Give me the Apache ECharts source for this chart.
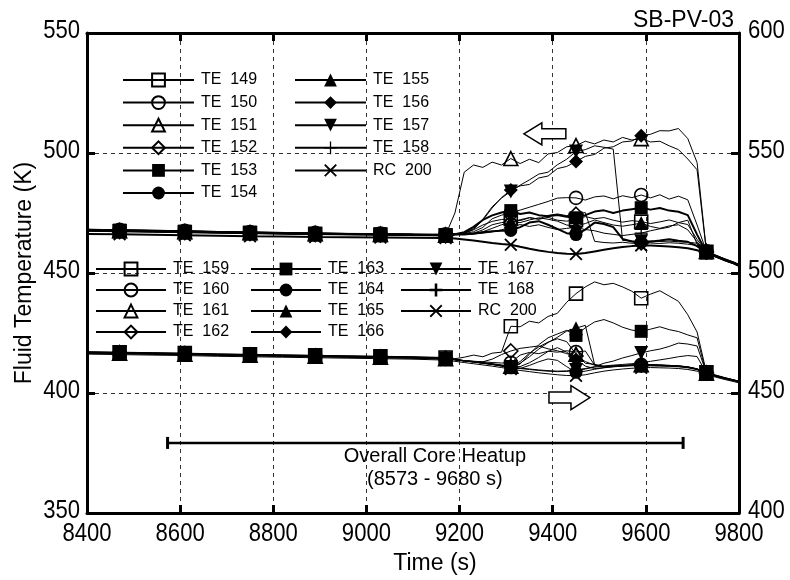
<!DOCTYPE html>
<html>
<head>
<meta charset="utf-8">
<script src="https://cdn.jsdelivr.net/npm/echarts@6/dist/echarts.min.js"></script>
<style>
  html, body { margin: 0; padding: 0; background: #fff; }
  #chart { width: 790px; height: 580px; }
</style>
</head>
<body>
<div id="chart"></div>
<script>
// Sample times (s): coarse before the heatup, 20 s steps afterwards
const time = [8400, 8470, 8540, 8610, 8680, 8750, 8820, 8890, 8960, 9030, 9100, 9170,
  9190, 9210, 9230, 9250, 9270, 9290, 9310, 9330, 9350, 9370, 9390, 9410, 9430, 9450,
  9470, 9490, 9510, 9530, 9550, 9570, 9590, 9610, 9630, 9650, 9670, 9690, 9710, 9730,
  9750, 9770, 9790, 9800];
// Times at which the symbols are drawn
const markTimes = [8470, 8610, 8750, 8890, 9030, 9170, 9310, 9450, 9590, 9730];

// Upper bundle, read on the left axis (K)
const te149 = [467.6,467.4,467.2,467.0,466.8,466.6,466.4,466.2,466.0,465.9,465.8,465.6,
  466.0,466.5,468.0,470.0,471.5,472.3,472.5,471.8,473.0,472.4,473.2,472.0,471.6,472.2,
  473.5,472.6,473.1,472.0,471.2,471.8,471.4,470.6,471.3,472.1,471.0,470.2,464.0,458.8,
  457.2,455.6,454.3,453.4];
const te150 = [468.2,468.0,467.8,467.6,467.3,467.1,466.9,466.7,466.5,466.4,466.2,466.1,
  466.3,466.4,467.2,469.0,472.6,474.1,475.0,476.2,477.4,478.6,479.8,481.2,481.4,481.3,
  480.4,481.7,482.1,480.9,482.2,481.4,482.5,481.3,482.6,480.8,482.0,480.5,470.0,459.0,
  457.4,455.9,454.5,453.6];
const te151 = [467.8,467.6,467.4,467.2,467.0,466.8,466.6,466.4,466.2,466.1,465.9,465.8,
  475.0,492.0,495.0,494.0,496.2,495.0,497.7,495.6,497.4,496.0,499.6,500.2,502.6,503.1,
  504.9,503.8,505.4,504.6,506.5,505.4,506.0,504.6,504.9,503.0,501.4,497.5,493.0,459.0,
  457.3,455.7,454.2,453.3];
const te152 = [467.4,467.2,467.0,466.8,466.6,466.4,466.2,466.0,465.9,465.8,465.6,465.5,
  466.0,466.1,466.3,467.2,468.6,470.1,471.0,472.2,473.1,472.5,474.0,474.6,473.9,474.5,
  475.2,463.2,462.7,462.5,462.8,462.4,462.6,462.5,462.3,462.6,462.4,462.0,461.5,458.7,
  457.1,455.5,454.1,453.2];
const te153 = [468.0,467.8,467.6,467.4,467.1,466.9,466.7,466.5,466.3,466.2,466.0,465.9,
  466.2,467.0,469.2,472.1,474.0,475.2,476.0,474.6,475.2,474.1,473.6,474.2,473.4,473.0,
  474.1,475.6,476.1,475.0,476.0,476.6,477.2,476.4,477.1,476.0,475.5,474.1,466.0,458.6,
  457.0,455.5,454.0,453.1];
const te154 = [467.9,467.7,467.5,467.3,467.0,466.8,466.6,466.4,466.2,466.1,465.9,465.7,
  466.0,466.0,466.5,467.0,467.4,467.6,467.7,469.1,471.0,471.6,470.1,468.4,466.6,466.0,
  468.1,471.0,470.4,469.1,464.2,463.1,462.8,463.0,463.5,464.1,463.4,463.0,461.2,458.4,
  456.9,455.3,453.9,453.0];
const te155 = [467.7,467.5,467.3,467.1,466.9,466.7,466.5,466.3,466.1,466.0,465.8,465.7,
  466.0,466.1,466.6,468.0,470.1,471.0,471.5,471.0,472.1,473.0,472.4,471.6,470.0,469.6,
  470.6,472.1,471.0,470.0,469.5,470.1,470.8,469.4,468.6,469.6,470.1,468.0,463.0,458.5,
  457.0,455.4,454.0,453.1];
const te156 = [468.1,467.9,467.7,467.5,467.2,467.0,466.8,466.6,466.4,466.3,466.1,465.9,
  466.0,466.6,468.2,472.0,477.1,481.4,484.6,486.3,486.9,489.6,490.4,493.5,494.4,496.5,
  498.6,499.4,502.0,502.6,504.6,505.0,507.2,507.8,509.3,509.2,510.2,506.0,496.0,459.2,
  457.5,455.8,454.4,453.5];
const te157 = [467.8,467.6,467.4,467.2,467.0,466.8,466.6,466.4,466.2,466.1,465.9,465.8,
  466.1,466.8,468.6,472.4,477.6,481.2,484.0,486.6,488.8,491.2,492.0,495.1,497.4,500.6,
  501.4,503.0,502.4,501.6,463.6,463.3,463.2,463.4,463.1,463.3,463.0,462.8,462.4,458.6,
  457.0,455.4,454.0,453.1];
const te158 = [467.5,467.3,467.1,466.9,466.7,466.5,466.3,466.1,466.0,465.9,465.7,465.6,
  466.0,466.1,466.2,466.6,467.1,468.0,469.0,470.2,469.4,470.1,469.0,468.1,468.6,469.0,
  468.1,467.6,466.6,466.1,465.6,466.1,466.6,467.6,468.4,469.1,471.0,472.0,462.0,458.5,
  457.0,455.4,454.0,453.1];
const rc200a = [466.3,466.1,465.9,465.7,465.5,465.3,465.2,465.0,464.9,464.8,464.7,464.6,
  464.4,464.0,463.5,463.0,462.5,462.1,461.8,460.9,460.1,459.4,458.8,458.3,458.0,457.9,
  458.3,459.0,459.7,460.3,460.8,461.2,461.5,461.5,461.3,461.0,460.7,460.3,459.5,458.3,
  456.8,455.3,453.9,453.0];

// Lower bundle, read on the right axis (K)
const te159 = [467.2,467.0,466.8,466.6,466.3,466.1,465.9,465.7,465.5,465.3,465.1,464.8,
  464.3,464.9,465.8,465.1,466.6,467.0,477.8,477.6,479.9,479.2,481.9,483.2,487.8,491.4,
  494.2,496.3,495.1,495.7,494.2,492.4,489.5,491.2,492.6,490.4,488.2,482.6,475.4,458.6,
  457.5,456.4,455.4,454.9];
const te160 = [466.6,466.4,466.2,466.0,465.8,465.6,465.4,465.2,465.0,464.8,464.6,464.2,
  463.9,463.5,463.2,463.0,462.7,462.5,462.6,465.8,466.9,466.4,467.4,467.0,467.6,467.1,
  467.5,461.6,461.0,461.1,461.4,461.6,461.7,461.8,461.6,461.5,461.3,460.9,460.1,458.4,
  457.3,456.3,455.4,454.9];
const te161 = [466.8,466.6,466.4,466.2,465.9,465.7,465.5,465.3,465.1,464.9,464.7,464.3,
  463.9,463.4,463.0,462.6,462.2,461.7,461.2,463.1,466.6,469.2,471.2,472.6,471.4,466.2,
  462.4,461.9,461.0,461.3,461.5,461.7,461.8,461.8,461.7,461.5,461.3,460.9,460.0,458.3,
  457.2,456.2,455.3,454.8];
const te162 = [467.0,466.8,466.6,466.4,466.1,465.9,465.7,465.5,465.3,465.1,464.9,464.5,
  464.0,463.5,463.2,463.0,464.1,466.0,467.5,468.6,469.1,469.6,468.4,467.6,466.4,465.4,
  463.1,461.6,460.9,461.2,461.4,461.6,461.7,461.7,461.6,461.4,461.2,460.8,460.0,458.3,
  457.2,456.2,455.3,454.8];
const te163 = [466.9,466.7,466.5,466.3,466.0,465.8,465.6,465.4,465.2,465.0,464.8,464.4,
  463.9,463.4,463.0,462.5,462.0,461.3,460.6,462.1,466.2,470.1,473.0,474.6,476.1,474.0,
  477.2,479.6,480.6,479.2,477.4,476.2,475.7,476.6,477.6,476.4,475.6,474.2,473.0,458.0,
  457.0,456.0,455.1,454.6];
const te164 = [466.7,466.5,466.3,466.1,465.8,465.6,465.4,465.2,465.0,464.8,464.6,464.2,
  463.8,463.3,462.9,462.4,461.9,461.2,460.5,460.2,461.5,463.0,464.2,463.6,461.0,458.6,
  459.1,459.9,460.5,460.9,461.2,461.4,461.3,461.3,461.2,461.1,460.9,460.5,459.7,458.0,
  457.0,456.0,455.1,454.6];
const te165 = [467.1,466.9,466.7,466.5,466.2,466.0,465.8,465.6,465.4,465.2,465.0,464.6,
  463.9,463.4,463.0,462.5,462.0,461.4,460.9,462.4,465.1,468.3,471.0,473.2,475.8,477.0,
  478.2,461.8,461.0,461.2,461.4,461.6,461.6,461.7,461.5,461.4,461.2,460.8,460.0,458.3,
  457.2,456.2,455.3,454.8];
const te166 = [466.8,466.6,466.4,466.2,465.9,465.7,465.5,465.3,465.1,464.9,464.7,464.3,
  464.0,463.5,463.1,462.6,462.1,461.5,460.9,461.0,462.6,464.8,467.3,468.9,467.0,464.0,
  461.2,460.2,460.6,461.0,461.2,461.4,461.5,461.5,461.4,461.3,461.1,460.7,459.9,458.2,
  457.1,456.1,455.2,454.7];
const te167 = [466.9,466.7,466.5,466.3,466.0,465.8,465.6,465.4,465.2,465.0,464.8,464.4,
  463.9,463.4,463.0,462.5,462.0,461.4,460.8,460.4,460.0,459.6,459.3,459.1,459.2,459.6,
  460.2,461.0,462.4,463.3,464.6,465.6,466.7,467.6,468.3,469.4,470.8,470.4,469.6,458.3,
  457.2,456.2,455.3,454.8];
const te168 = [466.6,466.4,466.2,466.0,465.7,465.5,465.3,465.1,464.9,464.7,464.5,464.1,
  463.9,463.4,462.9,462.4,461.9,461.3,460.7,460.2,459.8,459.4,459.1,458.9,459.0,459.4,
  460.0,460.8,461.3,461.6,461.9,462.2,462.6,463.2,463.8,464.4,465.1,465.6,465.2,458.2,
  457.1,456.1,455.2,454.7];
const rc200b = [466.2,466.0,465.8,465.6,465.3,465.1,464.9,464.7,464.5,464.3,464.1,463.7,
  463.2,462.7,462.2,461.7,461.2,460.6,460.0,459.4,458.9,458.4,458.0,457.6,457.3,457.2,
  457.6,458.4,459.1,459.6,460.0,460.3,460.5,460.6,460.5,460.4,460.2,459.8,459.1,457.6,
  456.6,455.6,454.7,454.2];

// Overall core heatup window (s)
const heatupSpan = [8573, 9680];
const heatupLevel = 379.2;

// Axis ticks
const leftTicks = { min: 350, max: 550, step: 50 };
const rightTicks = { min: 400, max: 600, step: 50 };
const timeTicks = { min: 8400, max: 9800, step: 200 };

const SANS = "'Liberation Sans', Arial, Helvetica, sans-serif";

const PLUS_THIN = 'path://M4.5,0h1v4.5h4.5v1h-4.5v4.5h-1v-4.5h-4.5v-1h4.5z';
const PLUS = 'path://M4,0h2v4h4v2h-4v4h-2v-4h-4v-2h4z';
const CROSS = 'path://M0,1L1,0L5,4L9,0L10,1L6,5L10,9L9,10L5,6L1,10L0,9L4,5Z';

const upperDefs = [
  { name: 'TE  149', data: te149, symbol: 'rect', open: true },
  { name: 'TE  150', data: te150, symbol: 'circle', open: true },
  { name: 'TE  151', data: te151, symbol: 'triangle', open: true },
  { name: 'TE  152', data: te152, symbol: 'diamond', open: true },
  { name: 'TE  153', data: te153, symbol: 'rect', width: 2 },
  { name: 'TE  154', data: te154, symbol: 'circle', width: 2 },
  { name: 'TE  155', data: te155, symbol: 'triangle' },
  { name: 'TE  156', data: te156, symbol: 'diamond' },
  { name: 'TE  157', data: te157, symbol: 'triangle', rotate: 180 },
  { name: 'TE  158', data: te158, symbol: PLUS_THIN },
  { name: 'RC  200', data: rc200a, symbol: CROSS, width: 2 }
];
const lowerDefs = [
  { name: 'TE  159', data: te159, symbol: 'rect', open: true },
  { name: 'TE  160', data: te160, symbol: 'circle', open: true },
  { name: 'TE  161', data: te161, symbol: 'triangle', open: true },
  { name: 'TE  162', data: te162, symbol: 'diamond', open: true },
  { name: 'TE  163', data: te163, symbol: 'rect' },
  { name: 'TE  164', data: te164, symbol: 'circle' },
  { name: 'TE  165', data: te165, symbol: 'triangle' },
  { name: 'TE  166', data: te166, symbol: 'diamond' },
  { name: 'TE  167', data: te167, symbol: 'triangle', rotate: 180 },
  { name: 'TE  168', data: te168, symbol: PLUS },
  { name: 'RC  200 ', data: rc200b, symbol: CROSS }
];

function makeSeries(d, yAxisIndex) {
  const size = d.symbol === 'triangle' || d.symbol === 'diamond' ? 14 : 13;
  return {
    type: 'line',
    name: d.name,
    xAxisIndex: 0,
    yAxisIndex: yAxisIndex,
    data: time.map((t, i) => [t, d.data[i]]),
    symbol: d.symbol,
    symbolRotate: d.rotate || 0,
    symbolSize: (v) => (markTimes.indexOf(v[0]) >= 0 ? size : 0),
    showSymbol: true,
    showAllSymbol: true,
    color: '#000',
    lineStyle: { color: '#000', width: d.width || 1 },
    itemStyle: d.open
      ? { color: 'rgba(0,0,0,0)', borderColor: '#000', borderWidth: 1.6 }
      : { color: '#000', borderColor: '#000', borderWidth: 0 },
    emphasis: { disabled: true },
    silent: true,
    z: 3
  };
}

const series = [];
upperDefs.forEach((d) => series.push(makeSeries(d, 0)));
lowerDefs.forEach((d) => series.push(makeSeries(d, 1)));
series.push({
  type: 'line',
  name: 'heatup',
  xAxisIndex: 0,
  yAxisIndex: 0,
  data: heatupSpan.map((t) => [t, heatupLevel]),
  symbol: 'rect',
  symbolSize: [3, 12],
  itemStyle: { color: '#000' },
  lineStyle: { color: '#000', width: 2.5 },
  silent: true,
  z: 4
});

const legendText = { fontFamily: SANS, fontSize: 16, color: '#000', padding: [0, 0, 0, 2] };
function legendBlock(names, left, top, itemWidth, gap) {
  return {
    data: names,
    orient: 'vertical',
    left: left,
    top: top,
    itemWidth: itemWidth,
    itemHeight: 16,
    itemGap: gap,
    padding: 0,
    selectedMode: false,
    textStyle: legendText
  };
}

const axisLine = { show: true, onZero: false, lineStyle: { color: '#000', width: 3 } };
const axisTick = { show: true, inside: true, length: 8, lineStyle: { color: '#000', width: 3 } };
const gridLine = { show: true, lineStyle: { color: '#333', width: 1, type: [4, 4] } };

const option = {
  animation: false,
  backgroundColor: '#fff',
  grid: { left: 87, right: 51, top: 33, bottom: 61, containLabel: false },
  legend: [
    legendBlock(upperDefs.slice(0, 6).map((d) => d.name), 122, 72, 71, 6.6),
    legendBlock(upperDefs.slice(6).map((d) => d.name), 294, 72, 71, 6.6),
    legendBlock(lowerDefs.slice(0, 4).map((d) => d.name), 95, 261, 70, 5),
    legendBlock(lowerDefs.slice(4, 8).map((d) => d.name), 250, 261, 70, 5),
    legendBlock(lowerDefs.slice(8).map((d) => d.name), 400, 261, 70, 5)
  ],
  xAxis: [
    {
      type: 'value', position: 'bottom',
      min: timeTicks.min, max: timeTicks.max, interval: timeTicks.step,
      axisLine: axisLine, axisTick: axisTick,
      axisLabel: { show: false },
      splitLine: gridLine,
      name: 'Time (s)', nameLocation: 'middle', nameGap: 39,
      nameTextStyle: { fontFamily: SANS, fontSize: 23, color: '#000', padding: [0, 0, 0, 44] }
    },
    {
      type: 'value', position: 'top',
      min: timeTicks.min, max: timeTicks.max, interval: timeTicks.step,
      axisLine: axisLine, axisTick: axisTick,
      axisLabel: { show: false }, splitLine: { show: false }
    }
  ],
  yAxis: [
    {
      type: 'value', position: 'left',
      min: leftTicks.min, max: leftTicks.max, interval: leftTicks.step,
      axisLine: axisLine, axisTick: axisTick,
      axisLabel: { show: false },
      splitLine: gridLine,
      name: 'Fluid Temperature (K)', nameLocation: 'middle', nameGap: 51,
      nameTextStyle: { fontFamily: SANS, fontSize: 23, color: '#000' }
    },
    {
      type: 'value', position: 'right',
      min: rightTicks.min, max: rightTicks.max, interval: rightTicks.step,
      axisLine: axisLine, axisTick: axisTick,
      axisLabel: { show: false },
      splitLine: { show: false }
    }
  ],
  series: series
};

const chart = echarts.init(document.getElementById('chart'), null, { renderer: 'canvas' });
chart.setOption(option);

// Condensed tick labels, placed at the axes' own tick positions
const tickStyle = { fontFamily: SANS, fontSize: 26, fill: '#000' };
const labels = [];
for (let t = timeTicks.min; t <= timeTicks.max; t += timeTicks.step) {
  const x = chart.convertToPixel({ xAxisIndex: 0 }, t);
  const y = chart.convertToPixel({ yAxisIndex: 0 }, leftTicks.min);
  labels.push({ type: 'text', x: x, y: y + 21, scaleX: 0.85, z: 10,
    style: Object.assign({ text: String(t), align: 'center', verticalAlign: 'middle' }, tickStyle) });
}
for (let v = leftTicks.min; v <= leftTicks.max; v += leftTicks.step) {
  const y = chart.convertToPixel({ yAxisIndex: 0 }, v);
  const x = chart.convertToPixel({ xAxisIndex: 0 }, timeTicks.min);
  labels.push({ type: 'text', x: x - 7, y: y - 2, scaleX: 0.85, z: 10,
    style: Object.assign({ text: String(v), align: 'right', verticalAlign: 'middle' }, tickStyle) });
}
for (let v = rightTicks.min; v <= rightTicks.max; v += rightTicks.step) {
  const y = chart.convertToPixel({ yAxisIndex: 1 }, v);
  const x = chart.convertToPixel({ xAxisIndex: 0 }, timeTicks.max);
  labels.push({ type: 'text', x: x + 9, y: y - 2, scaleX: 0.85, z: 10,
    style: Object.assign({ text: String(v), align: 'left', verticalAlign: 'middle' }, tickStyle) });
}

// Annotations placed from data coordinates
const toPx = (t, v) => chart.convertToPixel({ xAxisIndex: 0, yAxisIndex: 0 }, [t, v]);
const barMid = toPx(9147, heatupLevel);
const leftTip = toPx(9338, 508.0);
const rightTip = toPx(9480, 398.1);

chart.setOption({
  graphic: labels.concat([
    {
      type: 'text', right: 56, top: 9, z: 10,
      style: { text: 'SB-PV-03', fontFamily: SANS, fontSize: 23, fill: '#000' }
    },
    {
      type: 'text', x: barMid[0], y: barMid[1] + 14, z: 10,
      style: { text: 'Overall Core Heatup', fontFamily: SANS, fontSize: 20, fill: '#000',
        align: 'center', verticalAlign: 'middle' }
    },
    {
      type: 'text', x: barMid[0], y: barMid[1] + 37, z: 10,
      style: { text: '(8573 - 9680 s)', fontFamily: SANS, fontSize: 20, fill: '#000',
        align: 'center', verticalAlign: 'middle' }
    },
    {
      type: 'polygon', x: leftTip[0], y: leftTip[1], z: 10,
      shape: { points: [[0, 0], [18, -11], [18, -5], [42, -5], [42, 5], [18, 5], [18, 11]] },
      style: { fill: '#fff', stroke: '#000', lineWidth: 1.5 }
    },
    {
      type: 'polygon', x: rightTip[0], y: rightTip[1], z: 10,
      shape: { points: [[0, 0], [-19, -12], [-19, -5.5], [-41, -5.5], [-41, 5.5], [-19, 5.5], [-19, 12]] },
      style: { fill: '#fff', stroke: '#000', lineWidth: 1.5 }
    }
  ])
});
</script>
</body>
</html>
